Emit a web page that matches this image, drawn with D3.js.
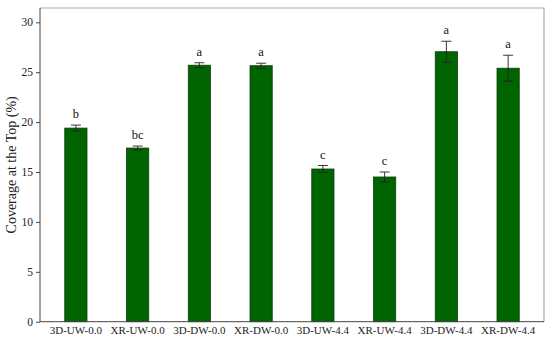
<!DOCTYPE html>
<html>
<head>
<meta charset="utf-8">
<script src="https://cdn.jsdelivr.net/npm/d3@7"></script>
<style>
  body { margin: 0; background: #fff; }
  svg { display: block; }
  svg text { font-family: "Liberation Serif", "Times New Roman", serif; }
</style>
</head>
<body>
<svg width="550" height="338"></svg>
<script>
var categories = ['3D-UW-0.0', 'XR-UW-0.0', '3D-DW-0.0', 'XR-DW-0.0', '3D-UW-4.4', 'XR-UW-4.4', '3D-DW-4.4', 'XR-DW-4.4'];
var values = [19.4, 17.4, 25.7, 25.65, 15.3, 14.5, 27.05, 25.4];
var errors = [0.3, 0.2, 0.25, 0.25, 0.35, 0.5, 1.05, 1.3];
var letters = ['b', 'bc', 'a', 'a', 'c', 'c', 'a', 'a'];
var yTicks = [0, 5, 10, 15, 20, 25, 30];

var svg = d3.select('svg');

var plotLeft = 40,
    plotRight = 544,
    plotTop = 8,
    plotBottom = 321.7;

var x = d3.scaleBand()
    .domain(categories)
    .range([45, 539])
    .paddingInner(0.64)
    .paddingOuter(0.32);

var y = d3.scaleLinear()
    .domain([0, 30])
    .range([plotBottom, 22.3]);

// frame (top and right lighter)
svg.append('path')
    .attr('d', 'M' + plotLeft + ',' + plotTop + 'H' + plotRight + 'V' + plotBottom)
    .attr('fill', 'none')
    .attr('stroke', '#aaa')
    .attr('stroke-width', 1.2);

// bars
svg.append('g').selectAll('rect')
    .data(values)
  .enter().append('rect')
    .attr('x', function(d, i) { return x(categories[i]); })
    .attr('y', function(d) { return y(d); })
    .attr('width', x.bandwidth())
    .attr('height', function(d) { return y(0) - y(d); })
    .attr('fill', '#006400')
    .attr('stroke', '#0b3d0b')
    .attr('stroke-width', 0.8);

// error bars
var eb = svg.append('g')
    .attr('stroke', '#222')
    .attr('stroke-width', 0.9);

values.forEach(function(v, i) {
  var cx = x(categories[i]) + x.bandwidth() / 2;
  eb.append('line')
      .attr('x1', cx).attr('x2', cx)
      .attr('y1', y(v + errors[i])).attr('y2', y(v - errors[i]));
  eb.append('line')
      .attr('x1', cx - 5).attr('x2', cx + 5)
      .attr('y1', y(v + errors[i])).attr('y2', y(v + errors[i]));
  eb.append('line')
      .attr('x1', cx - 5).attr('x2', cx + 5)
      .attr('y1', y(v - errors[i])).attr('y2', y(v - errors[i]));
});

// significance letters
svg.append('g').selectAll('text')
    .data(letters)
  .enter().append('text')
    .attr('x', function(d, i) { return x(categories[i]) + x.bandwidth() / 2; })
    .attr('y', function(d, i) { return y(values[i] + errors[i]) - 7; })
    .attr('text-anchor', 'middle')
    .attr('font-size', 12.5)
    .attr('fill', '#111')
    .text(function(d) { return d; });

// y axis
var yAxis = svg.append('g')
    .attr('transform', 'translate(' + plotLeft + ',0)')
    .call(d3.axisLeft(y).tickValues(yTicks).tickSize(4).tickSizeOuter(0));
yAxis.attr('font-family', null).attr('font-size', 11.5);
yAxis.select('.domain').attr('d', 'M0,' + plotTop + 'V' + plotBottom).attr('stroke', '#444');
yAxis.selectAll('.tick line').attr('stroke', '#444');
yAxis.selectAll('.tick text').attr('fill', '#222');

// x axis
var xAxis = svg.append('g')
    .attr('transform', 'translate(0,' + plotBottom + ')')
    .call(d3.axisBottom(x).tickSize(0).tickPadding(5));
xAxis.attr('font-family', null).attr('font-size', 11);
xAxis.select('.domain').attr('d', 'M' + plotLeft + ',0H' + plotRight).attr('stroke', '#444');
xAxis.selectAll('.tick text').attr('fill', '#222');

// y label
svg.append('text')
    .attr('transform', 'translate(16,' + ((plotTop + plotBottom) / 2) + ') rotate(-90)')
    .attr('text-anchor', 'middle')
    .attr('font-size', 14)
    .attr('fill', '#222')
    .text('Coverage at the Top (%)');
</script>
</body>
</html>
